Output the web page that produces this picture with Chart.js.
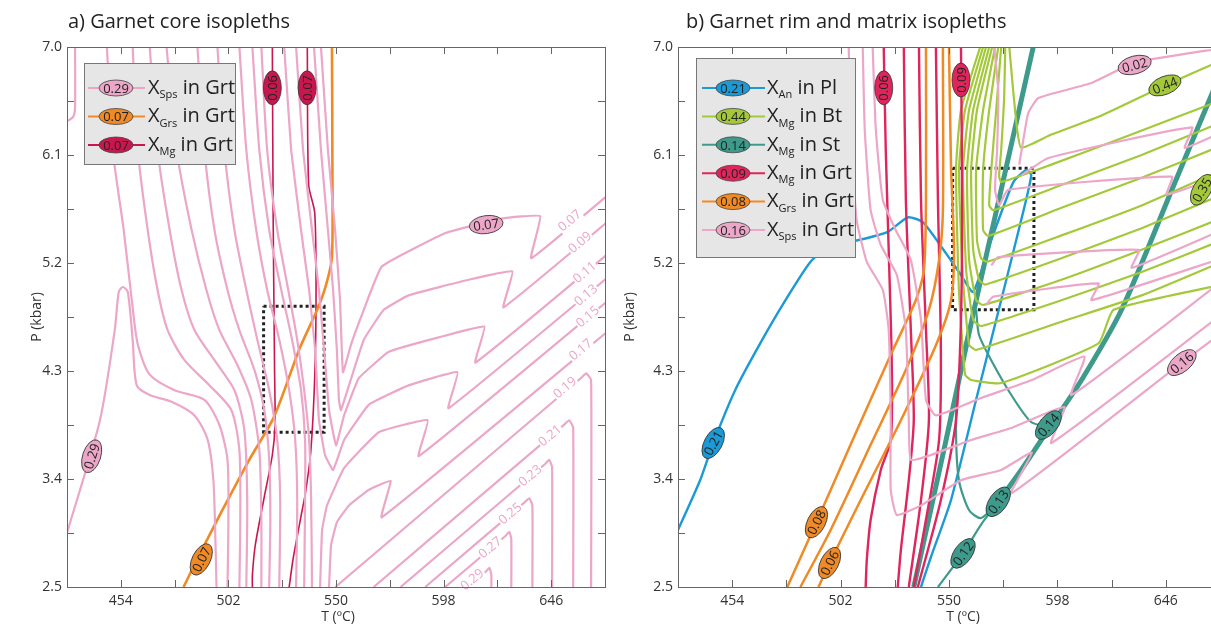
<!DOCTYPE html>
<html>
<head>
<meta charset="utf-8">
<script src="https://cdn.jsdelivr.net/npm/chart.js@4/dist/chart.umd.min.js"></script>
<style>
  html, body { margin: 0; padding: 0; background: #fff; overflow: hidden; width: 1211px; height: 631px; }
  #wrapA { position: absolute; left: 0; top: 0; width: 611px; height: 631px; }
  #wrapB { position: absolute; left: 611px; top: 0; width: 640px; height: 631px; }
</style>
</head>
<body>
<div id="wrapA"><canvas id="chartA" width="611" height="631"></canvas></div>
<div id="wrapB"><canvas id="chartB" width="640" height="631"></canvas></div>
<script>
// axis ranges / ticks
const T_MIN = 430, T_MAX = 670, T_STEP = 24;
const P_MIN = 2.5, P_MAX = 7.0, P_STEP = 0.45;

// colours
const PINK = '#eca6c8', ORANGE = '#ef8a26', RED_L = '#c8174e', RED_R = '#e0245c';
const BLUE = '#1b9ad6', GREEN = '#a3c93a', TEAL = '#3e9b8b';

// ---- panel a: X_Sps in Grt (T degC, P kbar) ----
const spsA_corner = [[433.6,7],[433.6,6.5],[432.8,6.42],[430,6.38]];
const spsA_29 = [[430,2.95],[444.7,3.89],[451.3,4.64],[453.1,4.96],[454.9,5.0],[457.1,4.96],[459.3,4.56],[461.1,4.18],[466.9,4.1],[477.1,4.04],[486.9,3.93],[492.7,3.73],[495.3,3.39],[496.2,2.89],[496.7,2.5]];
const spsA_v1 = [[447.8,7],[450.4,6.14],[455.3,5.475],[458.9,4.89],[461.6,4.52],[466.9,4.27],[478,4.14],[491.3,4.06],[498,3.85],[501.6,3.56],[502,3.06],[501.6,2.5]];
const spsA_v2 = [[459.3,7],[461.6,6.14],[466,5.475],[470.4,4.975],[474.9,4.64],[482.4,4.39],[493.6,4.18],[503.3,3.975],[506.9,3.64],[507.3,3.06],[506.9,2.5]];
const spsA_v3 = [[466.9,7],[470.4,6.14],[475.8,5.475],[481.1,4.975],[486.9,4.64],[495.8,4.39],[504.7,4.14],[509.1,3.81],[510.4,3.225],[510,2.5]];
const spsA_v4 = [[474.4,7],[478.9,6.14],[485.6,5.475],[492.2,4.975],[498,4.64],[506,4.35],[512.2,4.06],[515.8,3.64],[516.7,3.06],[516.7,2.5]];
const spsA_v5 = [[488.2,7],[491.3,6.14],[495.8,5.475],[501.6,4.975],[506.9,4.64],[513.6,4.31],[518,3.975],[520.2,3.56],[520.7,3.06],[520.2,2.5]];
const spsA_v6 = [[497.1,7],[500.2,6.14],[504.7,5.475],[510,4.975],[514.9,4.56],[520.2,4.14],[523.8,3.725],[525.1,3.225],[524.7,2.5]];
const spsA_v7 = [[506.9,7],[510,6.14],[514.4,5.475],[519.3,4.975],[524.7,4.56],[529.1,4.14],[531.8,3.725],[532.7,3.225],[532.2,2.5]];
const spsA_v8 = [[512.7,7],[515.8,6.14],[520.2,5.475],[525.6,4.975],[530.4,4.56],[534.4,4.14],[536.2,3.725],[536.2,3.225],[535.8,2.5]];
const spsA_v9 = [[516.7,7],[519.3,6.14],[523.8,5.475],[528.7,4.975],[532.7,4.56],[535.8,4.14],[538,3.725],[538.9,3.225],[539.3,2.5]];
const spsA_07 = [[543.3,7],[546.4,6.14],[549.6,5.475],[551.8,4.89],[553.1,4.29],[556.7,4.52],[561.6,4.77],[570.4,5.17],[598.9,5.45],[623.8,5.57],[641.1,5.59],[637.1,5.24],[670.9,5.76]];
const spsA_09 = [[540.2,7],[543.3,6.14],[546.4,5.475],[548.7,4.975],[550.4,4.475],[551.3,4.06],[552.2,3.975],[555.8,4.18],[562.4,4.56],[571.3,4.81],[582.4,4.93],[609.1,5.06],[628.7,5.13],[624.7,4.83],[670.9,5.54]];
const spsA_11 = [[532.2,7],[535.3,6.14],[539.3,5.475],[542.4,4.975],[544.7,4.475],[546.9,3.975],[550,3.68],[553.6,3.93],[560.2,4.24],[573.6,4.46],[595.8,4.58],[616.2,4.67],[612.2,4.37],[670.9,5.27]];
const spsA_13 = [[526.9,7],[530,6.14],[534.4,5.475],[538,4.975],[540.7,4.475],[542.4,3.89],[545.1,3.6],[548.7,3.475],[553.6,3.725],[564.7,4.02],[582.4,4.18],[604.2,4.29],[600.2,3.99],[670.9,5.075]];
const spsA_15 = [[542.9,2.5],[543.8,2.975],[546,3.18],[553.6,3.49],[569.1,3.79],[590.9,3.89],[586.9,3.59],[670.9,4.88]];
const spsA_17 = [[546.9,2.5],[547.8,2.85],[550.4,3.04],[555.8,3.18],[564.7,3.31],[574.4,3.385],[570.4,3.08],[670.9,4.625]];
const spsA_19 = [[549.7,2.5],[659.8,4.25],[661.6,4.28],[663.8,4.225],[663.8,2.5]];
const spsA_21 = [[566.8,2.5],[652.2,3.86],[654,3.89],[655.8,3.83],[655.8,2.5]];
const spsA_23 = [[578.8,2.5],[643.3,3.525],[645.1,3.56],[646.4,3.5],[646.4,2.5]];
const spsA_25 = [[589.8,2.5],[634.4,3.21],[636.2,3.24],[637.6,3.18],[637.6,2.5]];
const spsA_27 = [[598.7,2.5],[625.6,2.925],[627.3,2.96],[628.2,2.9],[628.2,2.5]];
const spsA_29b = [[608.6,2.5],[616.7,2.625],[618.4,2.66],[619.3,2.6],[619.3,2.5]];
// panel a: X_Grs and X_Mg in Grt
const grsA_07 = [[548.2,7],[548.4,6.0],[548.2,5.25],[545.6,5.02],[541.6,4.81],[533.6,4.48],[522.4,3.92],[511.3,3.56],[499.3,3.14],[489.1,2.77],[482,2.5]];
const mgA_06 = [[521.6,7],[522,5.5],[522.6,4.3],[522.8,3.85],[521.6,3.6],[518,3.25],[514,2.85],[512.7,2.6],[512.7,2.5]];
const mgA_07 = [[537.2,7],[537.8,5.85],[540.5,5.62],[541.1,5.0],[540.6,4.3],[538.8,3.64],[536.5,3.3],[534.3,3.08],[531,2.75],[529.1,2.5]];
const boxA = [[517.7,4.84],[544.7,4.84],[544.7,3.79],[517.7,3.79],[517.7,4.84]];

// ---- panel b ----
const spsB_v1 = [[505.6,7],[506.4,6.31],[509.1,5.56],[513.6,5.21],[520.7,4.975],[523.3,4.64],[524.2,3.89],[524.2,3.31],[526.9,3.1],[537.6,3.18],[555.3,3.39],[573.1,3.475],[586.7,3.62],[577.6,3.28],[653.1,4.37],[670.9,4.62]];
const spsB_v2 = [[511.8,7],[512.7,6.31],[515.3,5.64],[519.8,5.35],[526.9,5.1],[530.9,4.64],[532.2,3.89],[533.1,3.56],[542,3.6],[559.8,3.725],[577.6,3.825],[601.1,4.0],[595.3,3.7],[670.9,4.775]];
const spsB_v3 = [[516.2,7],[517.6,6.31],[520.7,5.725],[526.4,5.475],[533.1,5.225],[537.6,4.725],[539.8,4.06],[544.2,3.93],[564.2,4.075],[586.7,4.225],[610,4.42],[604.2,4.1],[670.9,5.05]];
const spsB_02 = [[670.9,6.99],[632.2,6.87],[613.1,6.7],[589.6,6.575],[585.1,6.45],[582.9,6.225],[581.1,6.02]];
const spsB_c1 = [[582,5.93],[594,6.075],[657.6,6.33],[654.4,6.16],[670.9,6.29]];
const spsB_c2 = [[570,7],[571.8,6.64],[571.3,6.14],[570.4,5.81],[572.2,5.68],[576.2,5.81],[648.7,5.92],[646.4,5.77],[670.9,5.93]];
const spsB_c3 = [[568.7,5.18],[571.8,5.25],[634,5.31],[630.9,5.16],[670.9,5.475]];
const spsB_c4 = [[566.4,4.85],[569.6,4.92],[616.2,5.03],[613.1,4.89],[670.9,5.24]];
const grsB_1 = [[478.4,2.5],[491.3,3.04],[506.4,3.685],[524.2,4.435],[535.3,4.89],[538.9,5.14],[539.8,5.725],[539.8,7]];
const grsB_2 = [[484.2,2.5],[497.6,2.975],[515.3,3.685],[530.9,4.31],[541.1,4.81],[545.6,5.225],[547.3,5.64],[547.3,7]];
const grsB_3 = [[492.2,2.5],[497.1,2.7],[510.9,3.225],[528.7,3.89],[544.2,4.515],[550.9,4.89],[552.2,5.3],[550.9,6.0],[550,7]];
const mgB_1 = [[521.1,7],[522,6.14],[523.3,5.31],[524.7,4.31],[524.2,3.725],[519.8,3.475],[515.3,3.06],[513.6,2.725],[513.1,2.5]];
const mgB_2 = [[530,7],[530.9,5.725],[533.1,4.64],[534.4,3.89],[532.2,3.39],[528.7,2.81],[527.3,2.5]];
const mgB_3 = [[536.7,7],[537.6,5.725],[539.8,4.64],[541.1,3.89],[537.6,3.225],[532.2,2.5]];
const mgB_4 = [[544.2,7],[545.1,5.725],[546.4,4.475],[545.6,3.725],[539.8,3.06],[534.4,2.5]];
const mgB_5 = [[555.3,7],[555.8,5.725],[555.3,4.725],[553.1,3.89],[546.4,3.225],[536.2,2.5]];
const btB_0 = [[576.7,7],[578.4,6.64],[580.2,6.31],[582,6.16],[595.3,6.27],[617.6,6.43],[645.6,6.68],[670.9,6.89]];
const btB_1 = [[574.9,7],[574.4,6.56],[573.1,6.14],[572.2,5.93],[573.1,5.875],[595.3,6.02],[626.4,6.24],[670.9,6.56]];
const btB_2 = [[573.1,7],[570.9,6.475],[568.7,5.975],[567.8,5.68],[569.6,5.64],[599.8,5.85],[635.3,6.1],[670.9,6.375]];
const btB_3 = [[571.8,7],[567.8,6.475],[565.1,5.975],[565.1,5.475],[567.3,5.425],[599.8,5.66],[635.3,5.91],[670.9,6.18]];
const btB_4 = [[570.4,7],[565.1,6.475],[562,5.975],[562.4,5.39],[564.2,5.24],[566.9,5.21],[599.8,5.43],[635.3,5.68],[670.9,5.975]];
const btB_5 = [[569.1,7],[562.4,6.475],[559.8,5.975],[560.7,5.31],[563.3,5.06],[566,5.02],[599.8,5.24],[635.3,5.49],[670.9,5.77]];
const btB_6 = [[567.8,7],[560.7,6.475],[558,5.975],[558.9,5.225],[562,4.89],[565.1,4.85],[599.8,5.06],[635.3,5.31],[670.9,5.575]];
const btB_7 = [[566.4,7],[558.9,6.475],[556.2,5.975],[557.6,5.14],[560.7,4.725],[564.2,4.675],[599.8,4.89],[635.3,5.125],[670.9,5.39]];
const btB_8 = [[565.1,7],[557.1,6.475],[554.4,5.975],[556.2,5.06],[558.9,4.52],[562,4.475],[599.8,4.71],[635.3,4.93],[670.9,5.21]];
const btB_9 = [[563.8,7],[555.3,6.475],[553.1,5.975],[554.4,4.975],[557.1,4.27],[559.8,4.225],[573.1,4.2],[616.2,4.53],[622.9,4.81],[670.9,5.02]];
const stB_a = [[587.3,7],[573.1,5.81],[561.1,4.81],[548.7,3.725],[534.4,2.5]];
const stB_b = [[670.9,6.81],[648.7,5.81],[626.4,4.81],[608.7,4.225],[595.3,3.85],[582,3.475],[571.8,3.21]];
const stB_12 = [[571.8,3.21],[564.2,3.02],[556.2,2.78],[545.1,2.5]];
const stB_13 = [[558.4,4.64],[554,4.225],[553.1,3.81],[554.4,3.39],[558.9,3.14],[564.2,3.075],[571.8,3.21]];
const stB_14 = [[599.8,3.975],[594,3.85],[586.4,3.875],[577.6,4.1],[568.7,4.39],[563.3,4.6],[562,4.81]];
const anB_21 = [[430,2.975],[439.8,3.39],[445.6,3.7],[455.3,4.14],[466.4,4.53],[477.6,4.89],[488.7,5.21],[498.9,5.37],[509.6,5.39],[522.9,5.46],[531.8,5.58],[538.4,5.54],[548.7,5.28],[555.3,5.1],[560.7,4.96],[568.7,5.39],[578.4,5.87],[584.2,5.975],[586.4,5.93],[582,5.56],[573.1,4.89],[562,4.06],[550.9,3.225],[542,2.75],[537.6,2.5]];
const boxB = [[551.6,5.99],[587.6,5.99],[587.6,4.81],[551.6,4.81],[551.6,5.99]];

// ellipse tags: [text, T, P, colour, rotation]
const tagsA = [
  ['0.06', 521.6, 6.66, RED_L, -90], ['0.07', 537.1, 6.66, RED_L, -90],
  ['0.07', 489.9, 2.73, ORANGE, -63], ['0.29', 441.0, 3.59, PINK, -72],
  ['0.07', 617.0, 5.52, PINK, -8]
];
const tagsB = [
  ['0.06', 521.1, 6.66, RED_R, -90], ['0.09', 555.3, 6.725, RED_R, -90],
  ['0.21', 445.6, 3.7, BLUE, -62], ['0.08', 491.3, 3.04, ORANGE, -63],
  ['0.06', 497.1, 2.7, ORANGE, -63], ['0.02', 632.2, 6.85, PINK, -15],
  ['0.44', 645.6, 6.68, GREEN, -22], ['0.35', 662, 5.81, GREEN, -60],
  ['0.16', 653.1, 4.37, PINK, -40], ['0.14', 594, 3.85, TEAL, -50],
  ['0.13', 571.8, 3.21, TEAL, -55], ['0.12', 556.2, 2.78, TEAL, -55]
];
// inline contour values (panel a)
const inlineA = [
  ['0.07', 654.4, 5.55], ['0.09', 658.9, 5.37], ['0.11', 661.1, 5.12], ['0.13', 661.6, 4.93],
  ['0.15', 662.4, 4.75], ['0.17', 659.3, 4.475], ['0.19', 652.2, 4.16], ['0.21', 645.6, 3.76],
  ['0.23', 636.7, 3.425], ['0.25', 627.8, 3.11], ['0.27', 618.9, 2.825], ['0.29', 610.9, 2.56]
];
// legends: [value, colour, subscript, tail]
const legendA = [['0.29', PINK, 'Sps', ' in Grt'], ['0.07', ORANGE, 'Grs', ' in Grt'], ['0.07', RED_L, 'Mg', ' in Grt']];
const legendB = [['0.21', BLUE, 'An', ' in Pl'], ['0.44', GREEN, 'Mg', ' in Bt'], ['0.14', TEAL, 'Mg', ' in St'],
  ['0.09', RED_R, 'Mg', ' in Grt'], ['0.08', ORANGE, 'Grs', ' in Grt'], ['0.16', PINK, 'Sps', ' in Grt']];

const FONT = '"Open Sans", "Noto Sans", sans-serif';
Chart.defaults.font.family = FONT;

function line(pts, color, width, extra) {
  return Object.assign({
    data: pts.map(p => ({ x: p[0], y: p[1] })),
    borderColor: color, borderWidth: width, showLine: true,
    pointRadius: 0, tension: 0.25, fill: false
  }, extra || {});
}

function tag(ctx, x, y, text, fill, rot) {
  ctx.save();
  ctx.translate(x, y);
  ctx.rotate(rot * Math.PI / 180);
  ctx.beginPath();
  ctx.ellipse(0, 0, 17, 9, 0, 0, Math.PI * 2);
  ctx.fillStyle = fill; ctx.fill();
  ctx.lineWidth = 0.8; ctx.strokeStyle = '#333'; ctx.stroke();
  ctx.fillStyle = '#222';
  ctx.font = '13px ' + FONT;
  ctx.textAlign = 'center'; ctx.textBaseline = 'middle';
  ctx.fillText(text, 0, 1);
  ctx.restore();
}

const decor = {
  id: 'decor',
  afterDatasetsDraw(chart, args, o) {
    const { ctx, chartArea: a, scales: { x, y } } = chart;
    ctx.save();
    // inline labels
    (o.inline || []).forEach(l => {
      ctx.save();
      ctx.translate(x.getPixelForValue(l[1]), y.getPixelForValue(l[2]));
      ctx.rotate(-40 * Math.PI / 180);
      ctx.font = '13px ' + FONT;
      const w = ctx.measureText(l[0]).width;
      ctx.fillStyle = '#fff';
      ctx.fillRect(-w / 2 - 1, -6, w + 2, 12);
      ctx.fillStyle = PINK;
      ctx.textAlign = 'center'; ctx.textBaseline = 'middle';
      ctx.fillText(l[0], 0, 0);
      ctx.restore();
    });
    o.tags.forEach(t => tag(ctx, x.getPixelForValue(t[1]), y.getPixelForValue(t[2]), t[0], t[3], t[4]));
    // frame and inward ticks
    ctx.strokeStyle = '#666'; ctx.lineWidth = 1;
    ctx.strokeRect(a.left + 0.5, a.top + 0.5, a.right - a.left, a.bottom - a.top);
    ctx.beginPath();
    x.ticks.forEach(t => {
      const px = Math.round(x.getPixelForValue(t.value)) + 0.5;
      ctx.moveTo(px, a.bottom); ctx.lineTo(px, a.bottom - 7);
      ctx.moveTo(px, a.top); ctx.lineTo(px, a.top + 7);
    });
    y.ticks.forEach(t => {
      const py = Math.round(y.getPixelForValue(t.value)) + 0.5;
      ctx.moveTo(a.left, py); ctx.lineTo(a.left + 7, py);
      ctx.moveTo(a.right, py); ctx.lineTo(a.right - 7, py);
    });
    ctx.stroke();
    // legend
    const L = o.legend;
    ctx.fillStyle = '#e6e6e6'; ctx.strokeStyle = '#777'; ctx.lineWidth = 1;
    ctx.fillRect(L.x0, L.y0, L.x1 - L.x0, L.y1 - L.y0);
    ctx.strokeRect(L.x0 + 0.5, L.y0 + 0.5, L.x1 - L.x0, L.y1 - L.y0);
    L.items.forEach((it, i) => {
      const yy = L.rowY + i * L.rowH;
      ctx.strokeStyle = it[1]; ctx.lineWidth = 2;
      ctx.beginPath(); ctx.moveTo(L.lx0, yy); ctx.lineTo(L.lx1, yy); ctx.stroke();
      ctx.beginPath(); ctx.ellipse(L.ex, yy, 17, 8, 0, 0, Math.PI * 2);
      ctx.fillStyle = it[1]; ctx.fill();
      ctx.strokeStyle = '#444'; ctx.lineWidth = 0.8; ctx.stroke();
      ctx.fillStyle = '#222'; ctx.font = '13px ' + FONT;
      ctx.textAlign = 'center'; ctx.textBaseline = 'middle';
      ctx.fillText(it[0], L.ex, yy + 1);
      ctx.textAlign = 'left';
      ctx.font = '20px ' + FONT;
      ctx.fillText('X', L.tx, yy);
      let cx = L.tx + ctx.measureText('X').width;
      ctx.font = '11px ' + FONT;
      ctx.fillText(it[2], cx, yy + 7);
      cx += ctx.measureText(it[2]).width;
      ctx.font = '20px ' + FONT;
      ctx.fillText(it[3], cx, yy);
    });
    // titles
    ctx.fillStyle = '#222'; ctx.textBaseline = 'middle'; ctx.textAlign = 'left';
    ctx.font = '20px ' + FONT;
    ctx.fillText(o.title, o.titleX, 22);
    ctx.font = '14px ' + FONT; ctx.textAlign = 'center'; ctx.fillStyle = '#333';
    ctx.fillText('T (\u00baC)', o.tX, 617);
    ctx.save();
    ctx.translate(o.pX, (a.top + a.bottom) / 2);
    ctx.rotate(-Math.PI / 2);
    ctx.fillText('P (kbar)', 0, 0);
    ctx.restore();
    ctx.restore();
  }
};

function options(padRight, deco) {
  return {
    responsive: false, animation: false, devicePixelRatio: 1,
    layout: { padding: { top: 47, right: padRight, bottom: 0, left: 0 } },
    plugins: { legend: { display: false }, tooltip: { enabled: false }, decor: deco },
    scales: {
      x: {
        type: 'linear', min: T_MIN, max: T_MAX,
        afterFit(s) { s.height = 44; },
        grid: { display: false, drawTicks: false }, border: { display: false },
        ticks: {
          stepSize: T_STEP, autoSkip: false, maxRotation: 0, padding: 6, color: '#333',
          font: { size: 14 },
          callback: v => (Math.round(v - 454) % 48 === 0 ? String(Math.round(v)) : '')
        }
      },
      y: {
        type: 'linear', min: P_MIN, max: P_MAX,
        afterFit(s) { s.width = 67; },
        grid: { display: false, drawTicks: false }, border: { display: false },
        ticks: {
          stepSize: P_STEP, autoSkip: false, padding: 5, color: '#333',
          font: { size: 14 },
          callback: v => { const i = Math.round((v - P_MIN) / P_STEP); return i % 2 === 0 ? (P_MIN + i * P_STEP).toFixed(1) : ''; }
        }
      }
    }
  };
}

const dotted = { borderDash: [3, 3], tension: 0, borderCapStyle: 'butt' };

new Chart(document.getElementById('chartA'), {
  type: 'scatter',
  data: {
    datasets: [
      ...[spsA_corner, spsA_29, spsA_v1, spsA_v2, spsA_v3, spsA_v4, spsA_v5, spsA_v6, spsA_v7, spsA_v8, spsA_v9].map(d => line(d, PINK, 2.2)),
      ...[spsA_07, spsA_09, spsA_11, spsA_13, spsA_15, spsA_17].map(d => line(d, PINK, 2.2, { tension: 0.1 })),
      ...[spsA_19, spsA_21, spsA_23, spsA_25, spsA_27, spsA_29b].map(d => line(d, PINK, 2.2, { tension: 0.15 })),
      line(grsA_07, ORANGE, 2.6),
      line(mgA_06, RED_L, 1.6), line(mgA_07, RED_L, 1.6),
      line(boxA, '#222', 3, dotted)
    ]
  },
  options: options(2, {
    tags: tagsA, inline: inlineA, title: 'a) Garnet core isopleths', titleX: 68, tX: 338, pX: 37,
    legend: { x0: 84, y0: 63, x1: 235, y1: 164, rowY: 88, rowH: 28.5, lx0: 88, lx1: 145, ex: 116, tx: 148, items: legendA }
  }),
  plugins: [decor]
});

new Chart(document.getElementById('chartB'), {
  type: 'scatter',
  data: {
    datasets: [
      ...[spsB_v1, spsB_v2, spsB_v3, spsB_02, spsB_c1, spsB_c2, spsB_c3, spsB_c4].map(d => line(d, PINK, 2.2, { tension: 0.15 })),
      ...[grsB_1, grsB_2, grsB_3].map(d => line(d, ORANGE, 2.5)),
      ...[mgB_1, mgB_2, mgB_3, mgB_4, mgB_5].map(d => line(d, RED_R, 2.4)),
      ...[btB_0, btB_1, btB_2, btB_3, btB_4, btB_5, btB_6, btB_7, btB_8, btB_9].map(d => line(d, GREEN, 2.2, { tension: 0.15 })),
      line(stB_a, TEAL, 5), line(stB_b, TEAL, 5), line(stB_12, TEAL, 2.2), line(stB_13, TEAL, 2.2), line(stB_14, TEAL, 2.2),
      line(anB_21, BLUE, 2.4, { tension: 0.2 }),
      line(boxB, '#222', 3, dotted)
    ]
  },
  options: options(31, {
    tags: tagsB, inline: [], title: 'b) Garnet rim and matrix isopleths', titleX: 75, tX: 352, pX: 19,
    legend: { x0: 85, y0: 58, x1: 244, y1: 257, rowY: 88, rowH: 28.4, lx0: 91, lx1: 154, ex: 122, tx: 156, items: legendB }
  }),
  plugins: [decor]
});
</script>
</body>
</html>
